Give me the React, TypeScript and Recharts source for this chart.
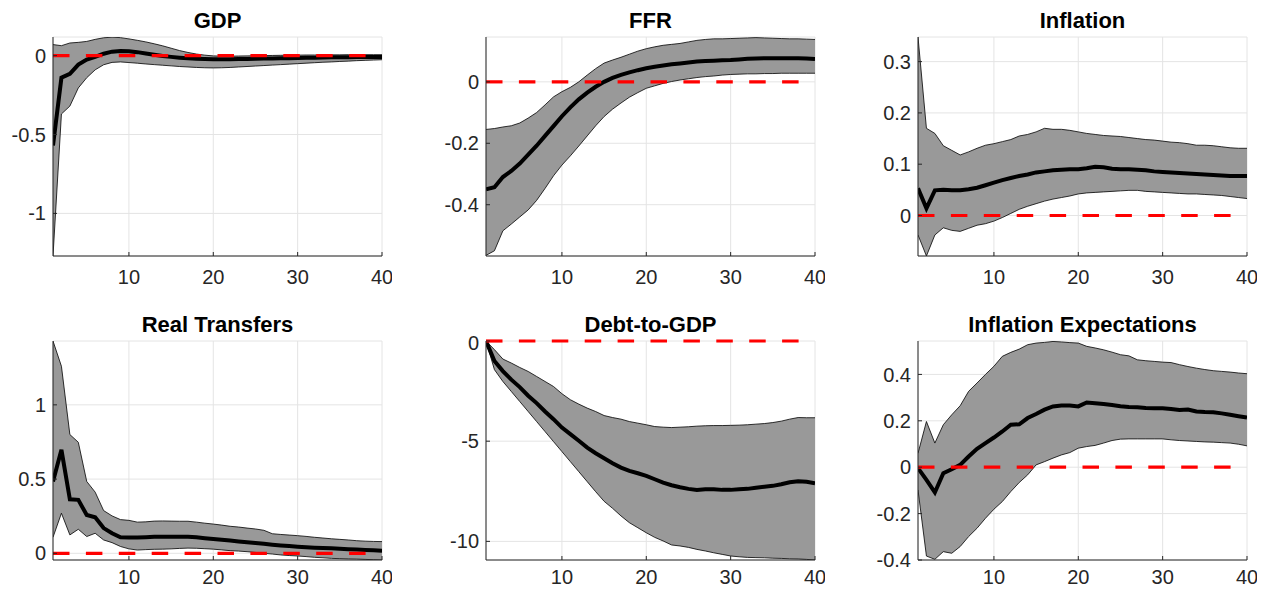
import {
  ComposedChart,
  Area,
  Line,
  XAxis,
  YAxis,
  CartesianGrid,
  ReferenceLine,
} from "recharts";

// horizon (quarters)
const horizons = [
  1, 2, 3, 4, 5, 6, 7, 8, 9, 10, 11, 12, 13, 14, 15, 16, 17, 18, 19, 20,
  21, 22, 23, 24, 25, 26, 27, 28, 29, 30, 31, 32, 33, 34, 35, 36, 37, 38, 39, 40,
];
const xTicks = [10, 20, 30, 40];

// GDP
const gdpMedian = [
  -0.57, -0.14, -0.115, -0.057, -0.025, -0.008, 0.012, 0.025, 0.03, 0.028,
  0.022, 0.014, 0.006, -0.002, -0.008, -0.013, -0.017, -0.02, -0.022, -0.023,
  -0.023, -0.023, -0.022, -0.021, -0.02, -0.019, -0.018, -0.017, -0.016, -0.015,
  -0.014, -0.013, -0.012, -0.011, -0.01, -0.01, -0.009, -0.009, -0.008, -0.008,
];
const gdpUpper = [
  0.07, 0.063, 0.08, 0.084, 0.09, 0.103, 0.113, 0.117, 0.114, 0.106,
  0.097, 0.087, 0.075, 0.062, 0.047, 0.032, 0.02, 0.01, 0.003, -0.002,
  -0.004, -0.004, -0.003, -0.002, -0.001, 0, 0.001, 0.002, 0.003, 0.003,
  0.004, 0.004, 0.005, 0.005, 0.005, 0.006, 0.006, 0.006, 0.006, 0.006,
];
const gdpLower = [
  -1.27, -0.37, -0.32, -0.205, -0.14, -0.09, -0.058, -0.043, -0.04, -0.044,
  -0.048, -0.053, -0.057, -0.061, -0.065, -0.069, -0.072, -0.075, -0.077, -0.078,
  -0.077, -0.075, -0.072, -0.069, -0.066, -0.063, -0.06, -0.057, -0.054, -0.051,
  -0.048, -0.045, -0.042, -0.04, -0.037, -0.035, -0.032, -0.03, -0.028, -0.026,
];

// FFR
const ffrMedian = [
  -0.35, -0.343, -0.31, -0.29, -0.266, -0.237, -0.208, -0.176, -0.144, -0.112,
  -0.083, -0.057, -0.035, -0.016, 0.0, 0.013, 0.023, 0.031, 0.038, 0.044,
  0.049, 0.053, 0.057, 0.06, 0.063, 0.066, 0.068, 0.069, 0.07, 0.071,
  0.073, 0.075, 0.076, 0.077, 0.077, 0.077, 0.077, 0.077, 0.076, 0.074,
];
const ffrUpper = [
  -0.155, -0.152, -0.147, -0.143, -0.134, -0.118, -0.1, -0.075, -0.049, -0.032,
  -0.018, 0.0, 0.022, 0.043, 0.061, 0.071, 0.08, 0.09, 0.1, 0.108,
  0.114, 0.119, 0.122, 0.125, 0.13, 0.135, 0.138, 0.14, 0.14, 0.141,
  0.142, 0.143, 0.144, 0.143, 0.142, 0.141, 0.14, 0.14, 0.139, 0.138,
];
const ffrLower = [
  -0.565, -0.55, -0.485, -0.463, -0.44, -0.417, -0.386, -0.347, -0.306, -0.271,
  -0.241, -0.209, -0.176, -0.143, -0.113, -0.089, -0.069, -0.05, -0.035, -0.021,
  -0.013, -0.005, 0.001, 0.006, 0.01, 0.014, 0.017, 0.019, 0.022, 0.024,
  0.025, 0.026, 0.026, 0.027, 0.027, 0.028, 0.028, 0.028, 0.028, 0.028,
];

// Inflation
const inflMedian = [
  0.053, 0.014, 0.049, 0.05, 0.049, 0.049, 0.051, 0.054, 0.059, 0.064,
  0.069, 0.073, 0.077, 0.08, 0.084, 0.086, 0.088, 0.089, 0.09, 0.09,
  0.092, 0.095, 0.094, 0.091, 0.09, 0.09, 0.089, 0.088, 0.086, 0.085,
  0.084, 0.083, 0.082, 0.081, 0.08, 0.079, 0.078, 0.077, 0.077, 0.077,
];
const inflUpper = [
  0.348, 0.17, 0.16, 0.136, 0.127, 0.118, 0.124, 0.131, 0.137, 0.14,
  0.144, 0.148, 0.155, 0.158, 0.163, 0.17, 0.168, 0.168, 0.166, 0.163,
  0.16, 0.158, 0.156, 0.155, 0.154, 0.152, 0.15, 0.148, 0.147, 0.145,
  0.143, 0.142, 0.14, 0.137, 0.137, 0.136, 0.134, 0.132, 0.131, 0.131,
];
const inflLower = [
  -0.038, -0.079, -0.038, -0.024, -0.029, -0.031, -0.025, -0.019, -0.016, -0.011,
  -0.004, 0.004, 0.012, 0.018, 0.023, 0.028, 0.032, 0.035, 0.038, 0.042,
  0.044, 0.045, 0.046, 0.047, 0.048, 0.049, 0.049, 0.047, 0.046, 0.045,
  0.044, 0.043, 0.042, 0.042, 0.041, 0.04, 0.039, 0.037, 0.035, 0.033,
];

// Real Transfers
const trMedian = [
  0.484, 0.697, 0.364, 0.36, 0.258, 0.243, 0.17, 0.135, 0.108, 0.106,
  0.107, 0.109, 0.111, 0.112, 0.112, 0.112, 0.111, 0.108, 0.102, 0.097,
  0.091, 0.086, 0.08, 0.075, 0.07, 0.064, 0.058, 0.053, 0.049, 0.045,
  0.041, 0.038, 0.036, 0.034, 0.031, 0.028, 0.025, 0.022, 0.02, 0.018,
];
const trUpper = [
  1.43, 1.26, 0.8, 0.748, 0.484, 0.412, 0.288, 0.252, 0.227, 0.222,
  0.21, 0.212, 0.217, 0.218, 0.217, 0.216, 0.216, 0.21, 0.203, 0.197,
  0.19, 0.182, 0.177, 0.17, 0.164, 0.155, 0.132, 0.127, 0.123, 0.119,
  0.114, 0.108, 0.103, 0.098, 0.094, 0.09, 0.085, 0.082, 0.08, 0.079,
];
const trLower = [
  0.108, 0.27, 0.124, 0.162, 0.113, 0.135, 0.09, 0.072, 0.046, 0.03,
  0.022, 0.025, 0.027, 0.028, 0.03, 0.033, 0.035, 0.034, 0.031, 0.028,
  0.023, 0.018, 0.015, 0.011, 0.006, 0.0, -0.005, -0.011, -0.015, -0.018,
  -0.022, -0.027, -0.03, -0.034, -0.036, -0.038, -0.039, -0.041, -0.043, -0.045,
];

// Debt-to-GDP
const debtMedian = [
  0, -1.0, -1.5, -1.93, -2.3, -2.73, -3.1, -3.52, -3.9, -4.32,
  -4.65, -4.98, -5.32, -5.6, -5.85, -6.1, -6.32, -6.48, -6.6, -6.73,
  -6.9, -7.07, -7.2, -7.3, -7.38, -7.43, -7.4, -7.4, -7.43, -7.43,
  -7.4, -7.38, -7.32, -7.27, -7.23, -7.15, -7.05, -7.0, -7.03, -7.1,
];
const debtUpper = [
  0, -0.43, -0.9, -1.1, -1.32, -1.52, -1.77, -2.02, -2.27, -2.63,
  -2.93, -3.15, -3.35, -3.52, -3.72, -3.82, -3.9, -4.02, -4.1, -4.18,
  -4.27, -4.3, -4.32, -4.3, -4.28, -4.25, -4.23, -4.22, -4.22, -4.21,
  -4.2, -4.18, -4.15, -4.12, -4.07, -4.0, -3.9, -3.82, -3.83, -3.83,
];
const debtLower = [
  0, -1.43, -2.02, -2.52, -3.02, -3.52, -4.02, -4.52, -5.02, -5.52,
  -6.02, -6.52, -7.02, -7.52, -8.0, -8.35, -8.73, -9.07, -9.32, -9.57,
  -9.8, -9.98, -10.18, -10.23, -10.3, -10.4, -10.48, -10.57, -10.65, -10.73,
  -10.77, -10.8, -10.81, -10.82, -10.84, -10.85, -10.87, -10.88, -10.9, -10.93,
];

// Inflation Expectations
const expMedian = [
  -0.004, -0.055, -0.109, -0.026, -0.009, 0.01, 0.046, 0.079, 0.104, 0.128,
  0.154, 0.183, 0.185, 0.212, 0.229, 0.248, 0.262, 0.266, 0.266, 0.262,
  0.279, 0.276, 0.272, 0.268, 0.263, 0.26, 0.258, 0.255, 0.254, 0.254,
  0.251, 0.247, 0.249, 0.24, 0.238, 0.237, 0.232, 0.226, 0.22, 0.214,
];
const expUpper = [
  0.06, 0.197, 0.104, 0.183, 0.226, 0.265, 0.327, 0.363, 0.4, 0.435,
  0.478, 0.495, 0.509, 0.528, 0.535, 0.538, 0.542, 0.54, 0.537, 0.535,
  0.521, 0.514, 0.506, 0.496, 0.485, 0.48, 0.463, 0.459, 0.456, 0.453,
  0.451, 0.442, 0.434, 0.427, 0.421, 0.416, 0.413, 0.41, 0.406, 0.403,
];
const expLower = [
  -0.098, -0.383, -0.397, -0.364, -0.371, -0.342, -0.299, -0.263, -0.22, -0.181,
  -0.148, -0.105, -0.066, -0.033, 0.01, 0.024, 0.039, 0.053, 0.063, 0.082,
  0.089, 0.094, 0.104, 0.115, 0.121, 0.122, 0.122, 0.122, 0.122, 0.122,
  0.118, 0.115, 0.113, 0.111, 0.109, 0.108, 0.106, 0.104, 0.099, 0.092,
];

const FONT = '"Liberation Sans", Arial, Helvetica, sans-serif';
const AXIS = "#262626";
const PLOT_W = 329;
const PLOT_H = 219;
const Y_AXIS_W = 60;
const PAD = 10;

type PanelProps = {
  title: string;
  median: number[];
  lower: number[];
  upper: number[];
  yTicks: number[];
  yDomain: [number, number];
  left: number;
  top: number;
  xTickMargin?: number;
  xAxisH?: number;
};

function IrfPanel({
  title, median, lower, upper, yTicks, yDomain, left, top,
  xTickMargin = 18, xAxisH = 38,
}: PanelProps) {
  const rows = horizons.map((h, i) => ({
    h,
    median: median[i],
    band: [lower[i], upper[i]],
  }));

  return (
    <>
      <div
        style={{
          position: "absolute",
          left,
          top: top - 27,
          width: PLOT_W,
          textAlign: "center",
          fontSize: 22,
          lineHeight: "22px",
          fontWeight: "bold",
          color: "#000",
        }}
      >
        {title}
      </div>
      <div style={{ position: "absolute", left: left - Y_AXIS_W, top: top - PAD }}>
        <ComposedChart
          width={Y_AXIS_W + PLOT_W + PAD}
          height={PAD + PLOT_H + xAxisH}
          data={rows}
          margin={{ top: PAD, right: PAD, bottom: 0, left: 0 }}
        >
          <CartesianGrid stroke="#e4e4e4" />
          <Area
            type="linear"
            dataKey="band"
            fill="#999999"
            fillOpacity={1}
            stroke="#000"
            strokeWidth={0.8}
            dot={false}
            activeDot={false}
            isAnimationActive={false}
          />
          <Line
            type="linear"
            dataKey="median"
            stroke="#000"
            strokeWidth={4}
            dot={false}
            activeDot={false}
            isAnimationActive={false}
          />
          <XAxis
            dataKey="h"
            type="number"
            domain={[1, 40]}
            ticks={xTicks}
            allowDataOverflow
            height={xAxisH}
            stroke={AXIS}
            tickSize={-4}
            tickMargin={xTickMargin}
            tick={{ fontSize: 20, fill: AXIS }}
          />
          <YAxis
            type="number"
            domain={yDomain}
            ticks={yTicks}
            allowDataOverflow
            width={Y_AXIS_W}
            stroke={AXIS}
            tickSize={-4}
            tickMargin={11}
            tick={{ fontSize: 20, fill: AXIS }}
          />
          <XAxis
            xAxisId="top"
            orientation="top"
            type="number"
            domain={[1, 40]}
            height={0}
            tick={false}
            tickLine={false}
            stroke={AXIS}
          />
          <YAxis
            yAxisId="right"
            orientation="right"
            type="number"
            domain={yDomain}
            width={0}
            tick={false}
            tickLine={false}
            stroke={AXIS}
          />
          <ReferenceLine
            y={0}
            stroke="#ff0000"
            strokeWidth={3.2}
            strokeDasharray="16.5 16.4"
          />
        </ComposedChart>
      </div>
    </>
  );
}

export default function App() {
  return (
    <div
      style={{
        position: "absolute",
        left: 0,
        top: 0,
        width: 1262,
        height: 589,
        overflow: "hidden",
        background: "#fff",
        fontFamily: FONT,
      }}
    >
      <IrfPanel title="GDP" median={gdpMedian} lower={gdpLower} upper={gdpUpper}
        yTicks={[-1, -0.5, 0]} yDomain={[-1.27, 0.118]} left={53} top={37} />
      <IrfPanel title="FFR" median={ffrMedian} lower={ffrLower} upper={ffrUpper}
        yTicks={[-0.4, -0.2, 0]} yDomain={[-0.567, 0.146]} left={486} top={37} />
      <IrfPanel title="Inflation" median={inflMedian} lower={inflLower} upper={inflUpper}
        yTicks={[0, 0.1, 0.2, 0.3]} yDomain={[-0.079, 0.348]} left={918} top={37} />
      <IrfPanel title="Real Transfers" median={trMedian} lower={trLower} upper={trUpper}
        yTicks={[0, 0.5, 1]} yDomain={[-0.045, 1.43]} left={53} top={341}
        xTickMargin={14} xAxisH={29} />
      <IrfPanel title="Debt-to-GDP" median={debtMedian} lower={debtLower} upper={debtUpper}
        yTicks={[-10, -5, 0]} yDomain={[-10.93, 0]} left={486} top={341}
        xTickMargin={14} xAxisH={29} />
      <IrfPanel title="Inflation Expectations" median={expMedian} lower={expLower} upper={expUpper}
        yTicks={[-0.4, -0.2, 0, 0.2, 0.4]} yDomain={[-0.4, 0.544]} left={918} top={341}
        xTickMargin={14} xAxisH={29} />
    </div>
  );
}
